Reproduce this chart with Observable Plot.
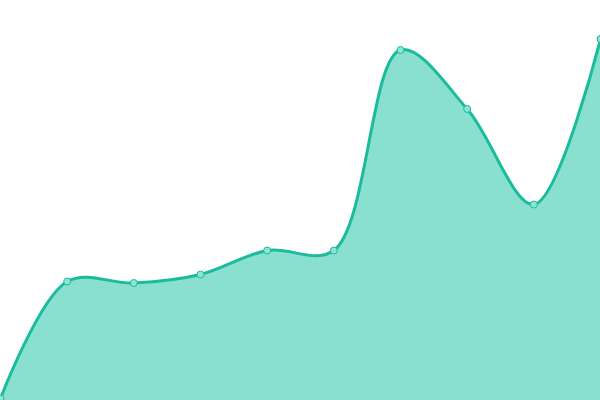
<!DOCTYPE html>
<html><head><meta charset="utf-8">
<script src="https://cdn.jsdelivr.net/npm/d3@7"></script>
<script src="https://cdn.jsdelivr.net/npm/@observablehq/plot@0.6"></script>
<style>html,body{margin:0;padding:0;background:#fff;overflow:hidden}</style>
</head><body><div id="chart"></div>
<script>
const xs = [0,1,2,3,4,5,6,7,8,9];
const values = [2,119,117.5,126,150,150,350.5,291.5,196,361.5];
const data = xs.map((x,i)=>({x, y: values[i]}));
const chart = Plot.plot({
  width: 600, height: 400,
  margin: 0,
  x: {domain: [0,9], axis: null},
  y: {domain: [0,400], axis: null},
  marks: [
    Plot.areaY(data, {x:"x", y:"y", curve:"catmull-rom", fill:"#13c29f", fillOpacity:0.5}),
    Plot.lineY(data, {x:"x", y:"y", curve:"catmull-rom", stroke:"#1abc9c", strokeWidth:3}),
    Plot.dot(data, {x:"x", y:"y", r:3.5, fill:"#8fe3d3", stroke:"#1abc9c", strokeWidth:1})
  ]
});
document.getElementById("chart").append(chart);
</script></body></html>
